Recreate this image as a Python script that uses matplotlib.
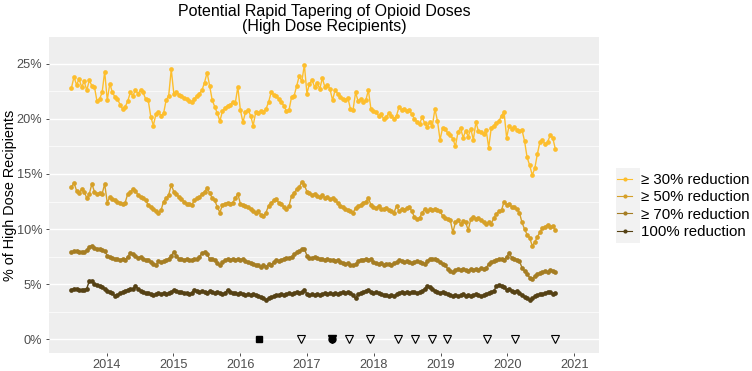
import numpy as np
import pandas as pd
import matplotlib
matplotlib.use("Agg")
import matplotlib.pyplot as plt
import matplotlib.dates as mdates
import matplotlib.ticker as mticker
from matplotlib.patches import Rectangle

plt.rcParams['font.family'] = ['Liberation Sans', 'DejaVu Sans']

# biweekly observation dates
dates = pd.date_range('2013-06-22', '2020-09-19', freq='14D')

red30 = [22.8, 23.8, 23.1, 23.6, 22.9, 23.4, 22.6, 23.5, 23.0, 22.9,
         21.6, 21.8, 22.4, 24.3, 21.7, 23.2, 22.4, 22.0, 21.8, 21.3,
         20.9, 21.1, 21.6, 22.4, 22.1, 22.6, 22.3, 22.6, 22.4, 21.8,
         21.7, 20.2, 19.4, 20.4, 20.6, 20.3, 20.5, 21.7, 22.1, 24.5,
         22.3, 22.4, 22.2, 22.1, 21.9, 21.8, 21.6, 21.5, 21.8, 22.1,
         22.3, 22.6, 23.3, 24.2, 23.0, 21.7, 21.1, 20.5, 19.8, 20.7,
         21.0, 21.2, 21.3, 21.5, 21.4, 22.9, 20.8, 19.7, 20.6, 20.8,
         20.3, 19.4, 20.6, 20.5, 20.7, 20.6, 20.9, 21.5, 22.4, 22.2,
         22.1, 21.8, 21.5, 21.2, 20.7, 20.8, 22.0, 22.1, 23.0, 23.9,
         23.4, 24.9, 22.3, 23.2, 23.5, 22.9, 23.3, 22.7, 23.7, 22.9,
         23.1, 22.7, 21.7, 22.6, 22.3, 22.0, 21.8, 21.7, 21.9, 20.9,
         20.8, 22.4, 21.6, 21.8, 21.5, 21.7, 22.6, 20.9, 20.7, 20.6,
         20.3, 20.4, 20.0, 20.2, 20.5, 20.3, 20.0, 20.3, 21.1, 20.8,
         20.9, 20.7, 20.8, 20.4, 20.0, 19.7, 19.5, 20.2, 19.6, 19.3,
         19.7, 19.4, 20.9, 19.8, 18.1, 19.2, 19.1, 18.7, 18.5, 18.2,
         17.5, 18.8, 19.2, 18.3, 18.9, 18.4, 19.1, 18.1, 19.7, 18.9,
         18.8, 18.6, 19.0, 17.4, 19.2, 19.4, 19.6, 19.8, 20.3, 20.6,
         18.3, 19.4, 19.1, 19.3, 19.0, 18.9, 19.0, 18.0, 16.5, 15.8,
         14.9, 15.5, 16.8, 17.9, 18.1, 17.7, 17.9, 18.5, 18.3, 17.3]

red50 = [13.8, 14.2, 13.5, 13.3, 13.6, 13.4, 12.8, 13.2, 14.1, 13.4,
         13.2, 13.3, 13.2, 14.1, 12.4, 12.9, 12.7, 12.6, 12.5, 12.4,
         12.3, 12.4, 13.2, 13.4, 13.6, 13.5, 13.1, 12.9, 12.8, 12.6,
         12.2, 12.0, 11.8, 11.6, 11.5, 11.7, 12.5, 12.8, 13.1, 14.0,
         13.4, 13.2, 12.9, 12.7, 12.5, 12.3, 12.3, 12.2, 12.6, 12.8,
         12.9, 13.2, 13.4, 13.7, 13.3, 12.8, 12.6, 12.0, 11.5, 12.2,
         12.3, 12.4, 12.3, 12.4, 12.8, 13.2, 12.3, 12.2, 12.1, 12.0,
         11.8, 11.6, 11.5, 11.6, 11.3, 11.2, 11.5, 12.1, 12.4, 12.6,
         12.7, 12.4, 12.3, 12.0, 11.8, 12.1, 13.0, 13.3, 13.6, 13.8,
         14.3, 14.0, 13.4, 13.3, 13.1, 13.2, 13.0, 12.9, 13.1, 12.8,
         12.9, 12.7, 12.8, 12.6, 12.4, 12.1, 12.0, 11.8, 11.7, 11.6,
         11.5, 11.9, 12.1, 12.2, 12.4, 12.5, 12.8, 12.2, 12.0, 11.9,
         12.1, 11.8, 11.8, 11.9, 11.7, 11.6, 11.5, 12.1, 11.6, 11.8,
         11.7, 11.9, 12.0, 11.6, 11.1, 10.9, 11.0, 11.5, 11.8, 11.6,
         11.8, 11.7, 11.8, 11.7, 11.6, 11.2, 11.0, 10.9, 10.8, 9.7,
         10.6, 10.8, 10.5, 10.7, 10.6, 9.9, 10.9, 11.1, 10.9, 11.0,
         10.8, 10.6, 10.5, 10.6, 10.5, 11.0, 11.4, 11.6, 11.7, 12.5,
         12.2, 12.3, 12.0, 12.0, 11.8, 11.5, 10.6, 10.0, 9.5, 9.2,
         8.5, 8.8, 9.3, 9.7, 10.1, 10.2, 10.4, 10.2, 10.3, 9.9]

red70 = [7.9, 8.0, 8.0, 7.9, 7.9, 7.9, 8.1, 8.4, 8.5, 8.3,
         8.2, 8.2, 8.1, 8.0, 7.6, 7.5, 7.4, 7.3, 7.3, 7.2,
         7.3, 7.2, 7.5, 7.8, 7.7, 7.6, 7.4, 7.5, 7.3, 7.2,
         7.2, 7.0, 6.8, 6.7, 7.1, 7.0, 7.1, 7.2, 7.3, 7.6,
         7.9, 7.6, 7.3, 7.3, 7.2, 7.3, 7.2, 7.2, 7.3, 7.3,
         7.5, 7.8, 7.9, 7.7, 7.3, 7.3, 7.2, 6.9, 6.7, 7.0,
         7.2, 7.3, 7.2, 7.3, 7.2, 7.3, 7.2, 7.3, 7.1, 7.0,
         6.9, 6.8, 6.7, 6.7, 6.6, 6.7, 6.6, 6.8, 6.7, 7.0,
         7.2, 7.1, 7.2, 7.3, 7.4, 7.4, 7.5, 7.7, 7.9, 8.0,
         8.2, 8.2, 7.6, 7.4, 7.4, 7.5, 7.4, 7.3, 7.3, 7.2,
         7.3, 7.2, 7.2, 7.1, 7.2, 7.0, 6.9, 6.8, 6.9, 6.7,
         6.7, 6.8, 7.1, 7.2, 7.2, 7.3, 7.2, 7.3, 7.0, 6.9,
         6.8, 6.9, 6.7, 6.8, 6.8, 6.7, 6.9, 7.0, 7.2, 7.1,
         7.0, 7.1, 7.0, 6.9, 7.0, 7.1, 7.0, 6.9, 6.8, 7.1,
         7.3, 7.3, 7.3, 7.2, 7.0, 6.8, 6.7, 6.4, 6.2, 6.1,
         6.3, 6.4, 6.3, 6.4, 6.3, 6.2, 6.4, 6.3, 6.4, 6.3,
         6.5, 6.4, 6.5, 6.8, 7.0, 7.1, 7.2, 7.3, 7.3, 7.2,
         7.5, 7.8, 7.4, 7.3, 7.2, 7.1, 6.5, 6.2, 5.9, 5.6,
         5.5, 5.7, 5.9, 6.0, 6.1, 6.2, 6.1, 6.3, 6.2, 6.1]

red100 = [4.5, 4.6, 4.6, 4.5, 4.5, 4.5, 4.6, 5.3, 5.3, 5.0,
          4.9, 4.8, 4.7, 4.6, 4.4, 4.3, 4.2, 3.9, 4.0, 4.2,
          4.3, 4.4, 4.5, 4.6, 4.6, 4.8, 4.6, 4.4, 4.3, 4.2,
          4.2, 4.1, 4.0, 4.1, 4.2, 4.1, 4.2, 4.1, 4.2, 4.3,
          4.5, 4.4, 4.3, 4.3, 4.2, 4.2, 4.1, 4.2, 4.5, 4.4,
          4.3, 4.4, 4.3, 4.2, 4.4, 4.3, 4.2, 4.3, 4.2, 4.1,
          4.2, 4.5, 4.3, 4.2, 4.2, 4.1, 4.2, 4.1, 4.0, 4.1,
          4.0, 4.1, 4.0, 3.9, 3.8, 3.7, 3.6, 3.7, 3.8, 3.9,
          4.0, 4.0, 4.1, 4.0, 4.1, 4.2, 4.1, 4.2, 4.3, 4.2,
          4.3, 4.5, 4.1, 4.0, 4.1, 4.0, 4.1, 4.0, 4.1, 4.2,
          4.1, 4.2, 4.1, 4.2, 4.1, 4.2, 4.3, 4.2, 4.3, 4.2,
          4.0, 3.7, 4.1, 4.2, 4.3, 4.4, 4.5, 4.3, 4.2, 4.3,
          4.2, 4.1, 4.0, 4.0, 3.9, 4.0, 3.9, 4.1, 4.2, 4.3,
          4.2, 4.3, 4.2, 4.3, 4.3, 4.2, 4.3, 4.4, 4.6, 4.8,
          4.7, 4.6, 4.4, 4.3, 4.2, 4.3, 4.2, 4.1, 4.0, 3.9,
          4.0, 3.9, 4.0, 4.1, 3.9, 4.0, 3.9, 4.0, 4.1, 4.0,
          3.9, 4.0, 4.1, 4.2, 4.3, 4.4, 4.8, 4.9, 4.8, 4.7,
          4.5, 4.6, 4.4, 4.3, 4.4, 4.2, 4.0, 3.8, 3.7, 3.6,
          3.7, 3.9, 4.0, 4.1, 4.1, 4.2, 4.3, 4.3, 4.1, 4.2]

labels = ["\u2265 30% reduction", "\u2265 50% reduction", "\u2265 70% reduction", "100% reduction"]
colors = ["#FDBE2D", "#D6A028", "#A57D23", "#554114"]

# policy / event markers along the baseline
square_dates = ['2016-04-12']
filled_dates = ['2017-05-16']
open_dates = ['2016-12-01', '2017-08-18', '2017-12-13', '2018-05-15', '2018-08-15',
              '2018-11-14', '2019-02-06', '2019-09-12', '2020-02-10', '2020-09-16']

fig = plt.figure(figsize=(7.52, 3.71), dpi=100)
ax = fig.add_axes([0.0648, 0.0493, 0.7317, 0.8497])
ax.set_facecolor('#EEEEEE')
for s in ax.spines.values():
  s.set_visible(False)

lines = []
for vals, lab, col in zip([red30, red50, red70, red100], labels, colors):
  ln, = ax.plot(dates, vals, color=col, linewidth=1.0, marker='o', markersize=3.4,
                markeredgewidth=0, label=lab, zorder=3)
  lines.append(ln)

ax.plot(pd.to_datetime(square_dates), np.zeros(len(square_dates)), 's', color='black',
        markersize=4.5, zorder=4)
ax.plot(pd.to_datetime(filled_dates), np.zeros(len(filled_dates)), 'o', color='black',
        markersize=5, zorder=4)
ax.plot(pd.to_datetime(filled_dates), np.zeros(len(filled_dates)), 'v', color='black',
        markersize=5.5, zorder=4)
ax.plot(pd.to_datetime(open_dates), np.zeros(len(open_dates)), 'v', markerfacecolor='none',
        markeredgecolor='black', markeredgewidth=0.8, markersize=6, zorder=4)

ax.set_ylim(-1.22, 27.39)
ax.set_xlim(pd.Timestamp('2013-02-18'), pd.Timestamp('2021-05-16'))
ax.yaxis.set_major_locator(mticker.MultipleLocator(5))
ax.yaxis.set_minor_locator(mticker.MultipleLocator(2.5))
ax.yaxis.set_major_formatter(mticker.FuncFormatter(lambda v, p: f"{v:.0f}%"))
ax.xaxis.set_major_locator(mdates.YearLocator())
ax.xaxis.set_major_formatter(mdates.DateFormatter('%Y'))
ax.grid(True, which='major', axis='y', color='white', linewidth=1.0)
ax.grid(True, which='minor', axis='y', color='white', linewidth=0.5)
ax.set_axisbelow(True)
ax.tick_params(axis='both', which='major', length=2.5, width=0.6, color='#333333',
               labelcolor='#4D4D4D', labelsize=9.2, pad=2)
ax.tick_params(axis='y', which='minor', length=0)

ax.set_ylabel("% of High Dose Recipients", fontsize=10.4)
ax.yaxis.set_label_coords(-0.058, 0.5)
ax.set_title("Potential Rapid Tapering of Opioid Doses\n(High Dose Recipients)",
             fontsize=11.5, linespacing=1.0, pad=5)

# legend keys get a grey background like ggplot
fig.patches.append(Rectangle((616 / 752, 1 - 243 / 371), 24 / 752, 75 / 371,
                             transform=fig.transFigure, facecolor='#F2F2F2',
                             edgecolor='none', zorder=0))
leg = fig.legend(handles=lines, loc='center left', bbox_to_anchor=(617 / 752, 0.445),
                 frameon=False, fontsize=10.8, handlelength=1.0, handletextpad=0.57,
                 labelspacing=0.22, borderaxespad=0, borderpad=0)
for h in leg.legend_handles:
  h.set_markersize(3)
  h.set_linewidth(0.8)

fig.savefig('out.png', dpi=100)
